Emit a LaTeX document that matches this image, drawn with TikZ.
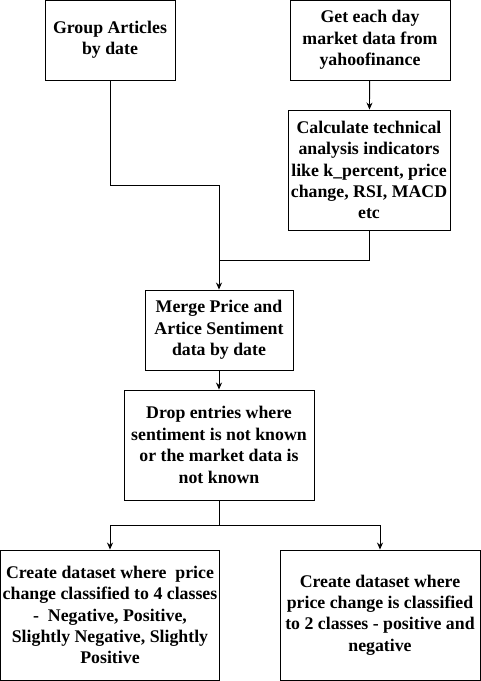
\documentclass[tikz,border=0pt]{standalone}
\usepackage{fontspec}
\setmainfont{Liberation Serif}
\usetikzlibrary{arrows.meta}

\begin{document}
\begin{tikzpicture}[x=1pt, y=-1pt, >={Stealth[length=7pt,width=6pt]},
		stepbox/.style={rectangle, draw=black, line width=0.9pt, fill=white, inner sep=0pt, align=center,
			font=\fontsize{17.8}{21.4}\selectfont\bfseries}]
			\useasboundingbox (0,0) rectangle (481,681);
			
			% Top row
			\node[stepbox, minimum width=130, minimum height=80] (group) at (110,40) {Group Articles\\by date};
			\node[stepbox, minimum width=160, minimum height=80] (market) at (370,40) {Get each day\\market data from\\yahoofinance};
			\node[stepbox, minimum width=162, minimum height=120] (calc) at (369,170) {Calculate technical\\analysis indicators\\like k\_percent, price\\change, RSI, MACD\\etc};
			
			% Middle
			\node[stepbox, minimum width=148, minimum height=80] (merge) at (219,330) {Merge Price and\\Artice Sentiment\\data by date};
			\node[stepbox, minimum width=190, minimum height=110] (drop) at (219,445) {Drop entries where\\sentiment is not known\\or the market data is\\not known};
			
			% Bottom row
			\node[stepbox, minimum width=219, minimum height=130] (four) at (110,615) {Create dataset where\ \ price\\change classified to 4 classes\\-\ \ Negative, Positive,\\Slightly Negative, Slightly\\Positive};
			\node[stepbox, minimum width=200, minimum height=130] (two) at (380,615) {Create dataset where\\price change is classified\\to 2 classes - positive and\\negative};
			
			% Connections
			\coordinate (j1) at (219,185);
			\coordinate (j2) at (219,260);
			\coordinate (split) at (219,525);
			\draw[line width=0.9pt, ->] (market) -- (calc);
			\draw[line width=0.9pt, ->] (group.south) |- (j1) -- (merge.north);
			\draw[line width=0.9pt] (calc.south) |- (j2);
			\draw[line width=0.9pt, ->] (merge) -- (drop);
			\draw[line width=0.9pt] (drop.south) -- (split);
			\foreach \n in {four,two} {
				\draw[line width=0.9pt, ->] (split) -| (\n.north);
			}
		\end{tikzpicture}
\end{document}
